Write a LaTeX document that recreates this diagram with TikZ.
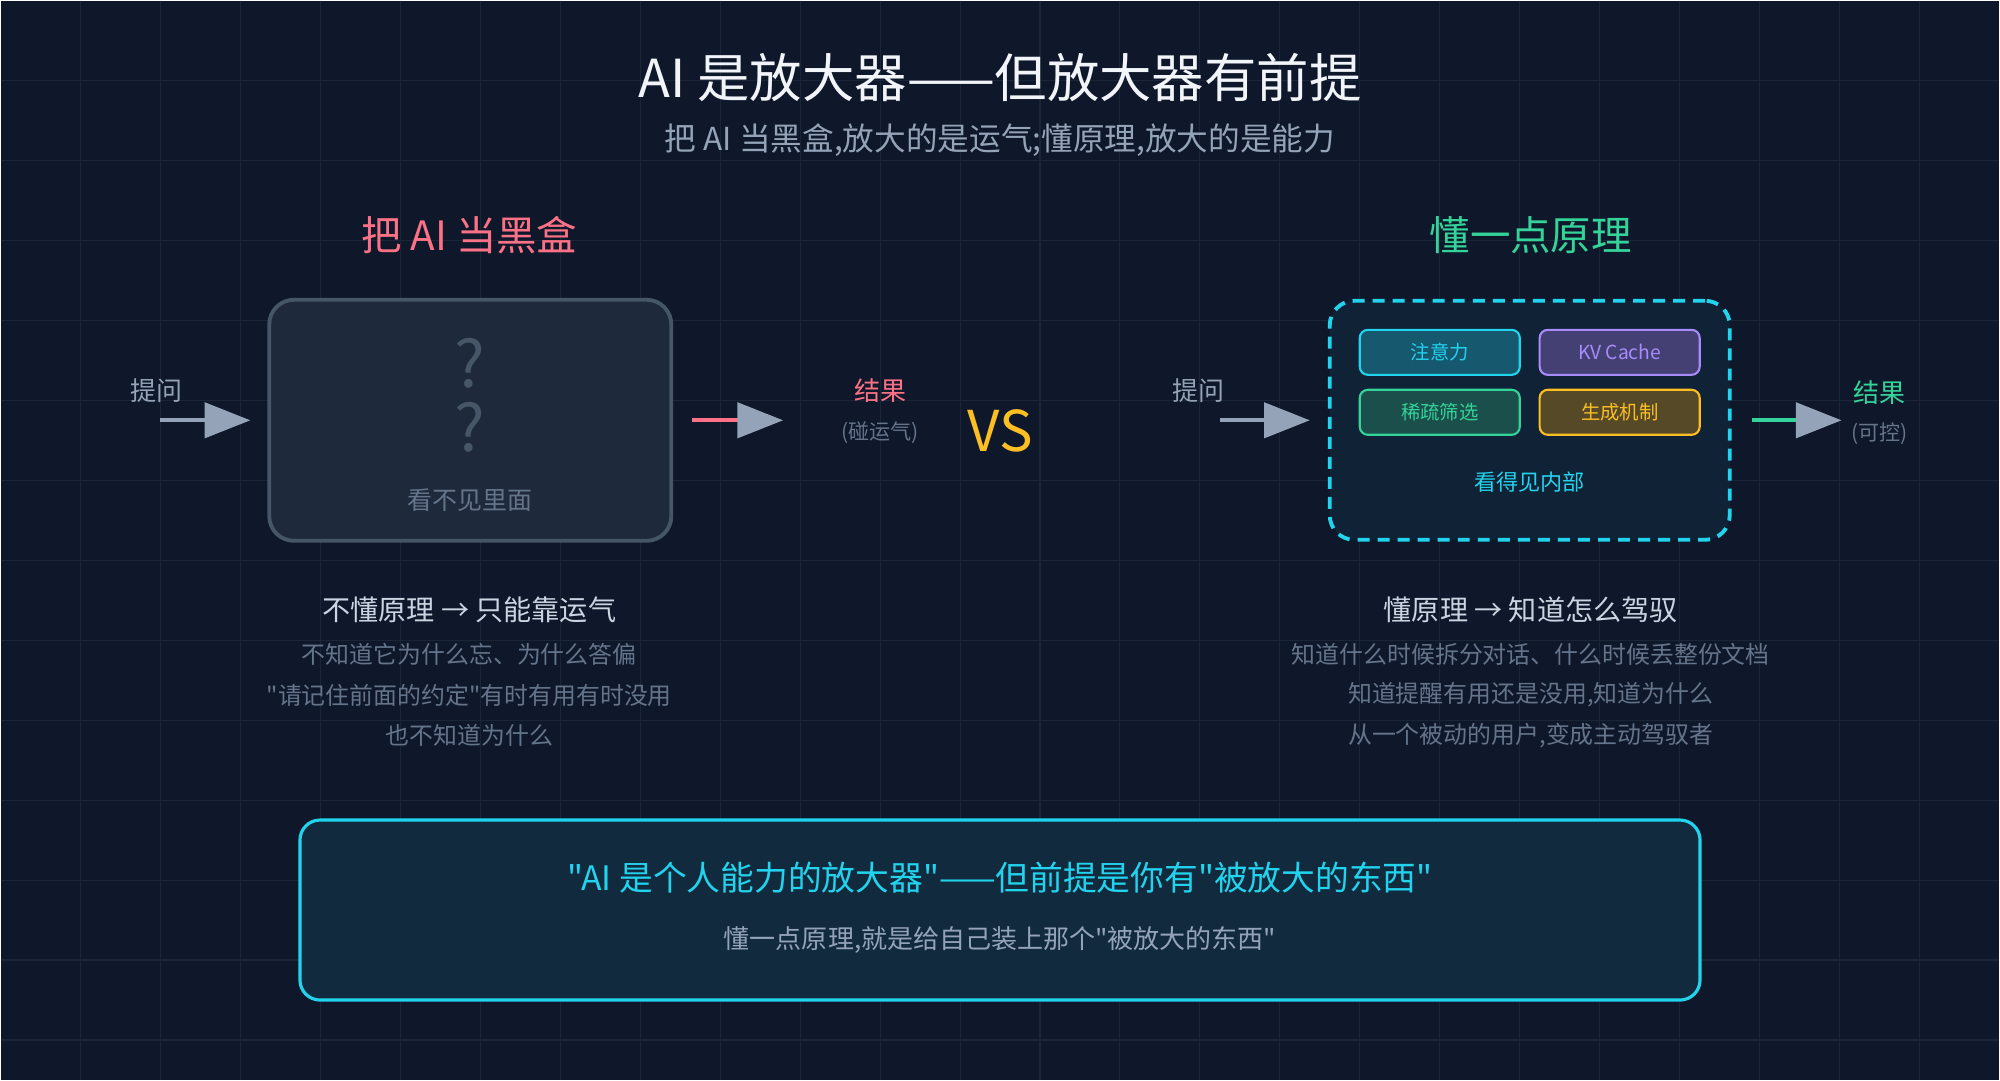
\documentclass[tikz,border=0pt]{standalone}
\usepackage{fontspec}
\setmainfont{Noto Sans CJK SC}[Ligatures=TeXOff]
\usepackage{xcolor}
\usepackage{tikz}
\usetikzlibrary{arrows.meta,positioning}

\definecolor{bg}{HTML}{0F172A}
\definecolor{gridc}{HTML}{1B2538}
\definecolor{panel}{HTML}{1E293B}
\definecolor{slateA}{HTML}{475569}
\definecolor{slateB}{HTML}{64748B}
\definecolor{slateC}{HTML}{94A3B8}
\definecolor{slateD}{HTML}{CBD5E1}
\definecolor{titlec}{HTML}{F1F5F9}
\definecolor{pinkc}{HTML}{FB7185}
\definecolor{greenc}{HTML}{34D399}
\definecolor{cyanc}{HTML}{22D3EE}
\definecolor{purplec}{HTML}{A78BFA}
\definecolor{yellowc}{HTML}{FBBF24}

\begin{document}
\begin{tikzpicture}[x=0.01cm, y=-0.01cm,
  gridline/.style={draw=gridc, line width=0.3pt},
  txt/.style={inner sep=0pt, align=center},
  title/.style={txt, text=titlec, font=\fontsize{14.9pt}{18pt}\selectfont},
  subttl/.style={txt, text=slateC, font=\fontsize{9pt}{11pt}\selectfont},
  head/.style={txt, font=\fontsize{11.5pt}{14pt}\selectfont},
  lbl/.style={txt, text=slateC, font=\fontsize{7.4pt}{9pt}\selectfont},
  note/.style={txt, text=slateB, font=\fontsize{6pt}{7pt}\selectfont},
  hint/.style={txt, font=\fontsize{7.1pt}{8.5pt}\selectfont},
  qmark/.style={txt, text=slateA, font=\fontsize{18.4pt}{22pt}\selectfont},
  vs/.style={txt, text=yellowc, font=\fontsize{16pt}{19pt}\selectfont},
  point/.style={txt, text=slateD, font=\fontsize{8pt}{9.6pt}\selectfont},
  body/.style={txt, text=slateB, font=\fontsize{6.8pt}{8pt}\selectfont},
  blackbox/.style={draw=slateA, fill=panel, line width=1.1pt, rounded corners=7pt,
    minimum width=4.02cm, minimum height=2.41cm},
  seebox/.style={draw=cyanc, fill=cyanc!6!bg, line width=1.1pt, rounded corners=7pt,
    dash pattern=on 3.4pt off 2.3pt, minimum width=4.0cm, minimum height=2.39cm},
  chip/.style={line width=0.6pt, rounded corners=2.3pt, minimum width=1.6cm,
    minimum height=0.45cm, inner sep=0pt, font=\fontsize{5.5pt}{6.6pt}\selectfont},
  quotebox/.style={draw=cyanc, fill=cyanc!10!bg, line width=0.9pt, rounded corners=5.7pt,
    minimum width=14cm, minimum height=1.8cm},
  feed/.style={line width=1.1pt, draw=slateC,
    -{Triangle[length=13pt, width=10pt, color=slateC, fill=slateC]}}
]
  % background and grid
  \fill[bg] (0,0) rectangle (2000,1080);
  \foreach \gx in {80,160,...,1920} \draw[gridline] (\gx,0) -- (\gx,1080);
  \foreach \gy in {80,160,...,1040} \draw[gridline] (0,\gy) -- (2000,\gy);
  \useasboundingbox (0,0) rectangle (2000,1080);

  \node[title] (ttl) at (1000,77) {AI 是放大器——但放大器有前提};
  \node[subttl] (sub) at (1000,140) {把 AI 当黑盒,放大的是运气;懂原理,放大的是能力};

  % left: black box
  \node[head, text=pinkc] (lhead) at (469,235) {把 AI 当黑盒};
  \node[blackbox] (bbox) at (470,420) {};
  \node[qmark] (q1) at (470,363) {?};
  \node[qmark] (q2) at (470,427) {?};
  \node[hint, text=slateB] (bhint) at (470,500) {看不见里面};
  \node[lbl] (askL) at (156,390) {提问};
  \coordinate (inA) at (160,420);
  \coordinate (outA) at (783,420);
  \draw[feed, shorten >=0.17cm] (inA) -- (bbox);
  \draw[feed, draw=pinkc, shorten <=0.19cm] (bbox) -- (outA);
  \node[lbl, text=pinkc] (resL) at (880,390) {结果};
  \node[note] (luck) at (880,432) {(碰运气)};

  \node[vs] (vs) at (1000,431) {VS};

  % right: see inside
  \node[head, text=greenc] (rhead) at (1531,235) {懂一点原理};
  \node[seebox] (wbox) at (1530,420) {};
  \node[chip, draw=cyanc, fill=cyanc!35!bg, text=cyanc] (attn) at (1440,352) {注意力};
  \node[chip, draw=purplec, fill=purplec!35!bg, text=purplec] (kv) at (1620,352) {KV Cache};
  \node[chip, draw=greenc, fill=greenc!30!bg, text=greenc] (sparse) at (1440,412) {稀疏筛选};
  \node[chip, draw=yellowc, fill=yellowc!30!bg, text=yellowc] (gen) at (1620,412) {生成机制};
  \node[hint, text=cyanc, font=\fontsize{6.3pt}{7.5pt}\selectfont] (whint) at (1530,482) {看得见内部};
  \node[lbl] (askR) at (1199,390) {提问};
  \coordinate (inB) at (1220,420);
  \coordinate (outB) at (1842,420);
  \draw[feed, shorten >=0.18cm] (inB) -- (wbox);
  \draw[feed, draw=greenc, shorten <=0.2cm] (wbox) -- (outB);
  \node[lbl, text=greenc] (resR) at (1880,392) {结果};
  \node[note] (ctrl) at (1880,433) {(可控)};

  % notes under each side
  \node[point] (lpt) at (469,610) {不懂原理 → 只能靠运气};
  \node[body] (l1) at (469,654) {不知道它为什么忘、为什么答偏};
  \node[body] (l2) at (469,695) {"请记住前面的约定"有时有用有时没用};
  \node[body] (l3) at (469,735) {也不知道为什么};
  \node[point] (rpt) at (1531,610) {懂原理 → 知道怎么驾驭};
  \node[body] (r1) at (1531,654) {知道什么时候拆分对话、什么时候丢整份文档};
  \node[body] (r2) at (1531,695) {知道提醒有用还是没用,知道为什么};
  \node[body] (r3) at (1531,735) {从一个被动的用户,变成主动驾驭者};

  % bottom quote
  \node[quotebox] (qbox) at (1000,910) {};
  \node[txt, text=cyanc, font=\fontsize{9.6pt}{11.5pt}\selectfont] (qmain) at (1000,878)
    {"AI 是个人能力的放大器"——但前提是你有"被放大的东西"};
  \node[lbl] (qsub) at (1000,940) {懂一点原理,就是给自己装上那个"被放大的东西"};
\end{tikzpicture}
\end{document}
